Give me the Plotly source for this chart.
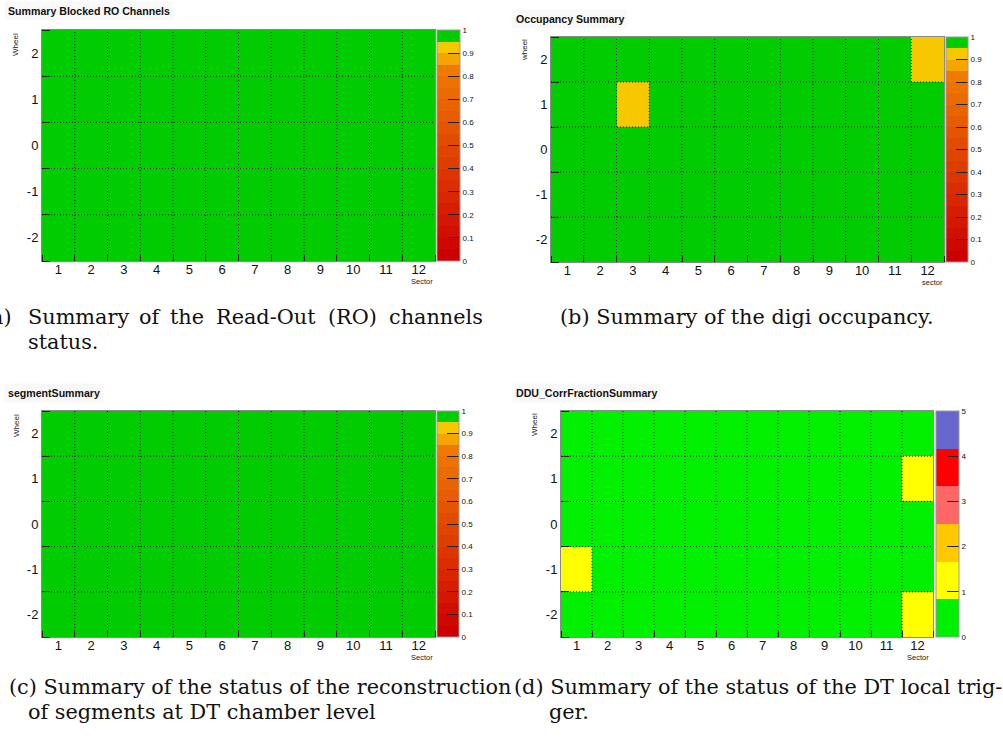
import plotly.graph_objects as go

W, H = 1003, 738

# ---- data -------------------------------------------------------------
sectors = [1, 2, 3, 4, 5, 6, 7, 8, 9, 10, 11, 12]
wheels = [-2, -1, 0, 1, 2]
wheel_labels = ["-2", "-1", "0", "1", "2"]
sector_labels = ["1", "2", "3", "4", "5", "6", "7", "8", "9", "10", "11", "12"]

# rows ordered as wheels (-2 .. 2), columns as sectors (1 .. 12)
blocked_ro = [
    [1.0, 1.0, 1.0, 1.0, 1.0, 1.0, 1.0, 1.0, 1.0, 1.0, 1.0, 1.0],
    [1.0, 1.0, 1.0, 1.0, 1.0, 1.0, 1.0, 1.0, 1.0, 1.0, 1.0, 1.0],
    [1.0, 1.0, 1.0, 1.0, 1.0, 1.0, 1.0, 1.0, 1.0, 1.0, 1.0, 1.0],
    [1.0, 1.0, 1.0, 1.0, 1.0, 1.0, 1.0, 1.0, 1.0, 1.0, 1.0, 1.0],
    [1.0, 1.0, 1.0, 1.0, 1.0, 1.0, 1.0, 1.0, 1.0, 1.0, 1.0, 1.0],
]
occupancy = [
    [1.0, 1.0, 1.0, 1.0, 1.0, 1.0, 1.0, 1.0, 1.0, 1.0, 1.0, 1.0],
    [1.0, 1.0, 1.0, 1.0, 1.0, 1.0, 1.0, 1.0, 1.0, 1.0, 1.0, 1.0],
    [1.0, 1.0, 1.0, 1.0, 1.0, 1.0, 1.0, 1.0, 1.0, 1.0, 1.0, 1.0],
    [1.0, 1.0, 0.92, 1.0, 1.0, 1.0, 1.0, 1.0, 1.0, 1.0, 1.0, 1.0],
    [1.0, 1.0, 1.0, 1.0, 1.0, 1.0, 1.0, 1.0, 1.0, 1.0, 1.0, 0.92],
]
segments = [
    [1.0, 1.0, 1.0, 1.0, 1.0, 1.0, 1.0, 1.0, 1.0, 1.0, 1.0, 1.0],
    [1.0, 1.0, 1.0, 1.0, 1.0, 1.0, 1.0, 1.0, 1.0, 1.0, 1.0, 1.0],
    [1.0, 1.0, 1.0, 1.0, 1.0, 1.0, 1.0, 1.0, 1.0, 1.0, 1.0, 1.0],
    [1.0, 1.0, 1.0, 1.0, 1.0, 1.0, 1.0, 1.0, 1.0, 1.0, 1.0, 1.0],
    [1.0, 1.0, 1.0, 1.0, 1.0, 1.0, 1.0, 1.0, 1.0, 1.0, 1.0, 1.0],
]
ddu_corr_fraction = [
    [0, 0, 0, 0, 0, 0, 0, 0, 0, 0, 0, 1],
    [1, 0, 0, 0, 0, 0, 0, 0, 0, 0, 0, 0],
    [0, 0, 0, 0, 0, 0, 0, 0, 0, 0, 0, 0],
    [0, 0, 0, 0, 0, 0, 0, 0, 0, 0, 0, 1],
    [0, 0, 0, 0, 0, 0, 0, 0, 0, 0, 0, 0],
]

status_ticks = [0, 0.1, 0.2, 0.3, 0.4, 0.5, 0.6, 0.7, 0.8, 0.9, 1]
status_tick_text = ["0", "0.1", "0.2", "0.3", "0.4", "0.5", "0.6", "0.7", "0.8", "0.9", "1"]
ddu_ticks = [0, 1, 2, 3, 4, 5]


# ---- palettes ---------------------------------------------------------
def stepped_scale(colors):
    n = len(colors)
    scale = []
    for i, c in enumerate(colors):
        scale.append([i / n, c])
        scale.append([(i + 1) / n, c])
    return scale


def red_orange(k, n):
    # red (204,0,0) -> orange (240,122,0)
    t = k / (n - 1)
    r = int(round(204 + (240 - 204) * t))
    g = int(round(0 + 122 * t))
    return f"rgb({r},{g},0)"


status_colors = [red_orange(k, 17) for k in range(17)] + ["#f5a500", "#f7c800", "#00cc00"]
status_scale = stepped_scale(status_colors)
ddu_scale = stepped_scale(["#00f000", "#ffff00", "#ffc800", "#ff6666", "#ff0000", "#6666cc"])


def fx(px):
    return px / W


def fy(py):
    return 1 - py / H


# pixel boxes: (left, right, top, bottom), colour bar (left, right, top, bottom)
panels = [
    dict(z=blocked_ro, scale=status_scale, zmax=1, ticks=status_ticks, ticktext=status_tick_text,
         plot=(42, 435, 30, 261), bar=(437, 460, 30, 261),
         title="Summary Blocked RO Channels", title_xy=(4, 11),
         ylab="Wheel", ylab_xy=(16, 44), xlab="Sector", xlab_xy=(422, 281)),
    dict(z=occupancy, scale=status_scale, zmax=1, ticks=status_ticks, ticktext=status_tick_text,
         plot=(551, 944, 37, 262), bar=(946, 968, 37, 262),
         title="Occupancy Summary", title_xy=(512, 19),
         ylab="wheel", ylab_xy=(524, 50), xlab="sector", xlab_xy=(932, 282)),
    dict(z=segments, scale=status_scale, zmax=1, ticks=status_ticks, ticktext=status_tick_text,
         plot=(42, 435, 411, 637), bar=(437, 459, 411, 637),
         title="segmentSummary", title_xy=(4, 393),
         ylab="Wheel", ylab_xy=(16, 425), xlab="Sector", xlab_xy=(422, 657)),
    dict(z=ddu_corr_fraction, scale=ddu_scale, zmax=5, ticks=ddu_ticks,
         ticktext=[str(t) for t in ddu_ticks],
         plot=(561, 933, 411, 637), bar=(936, 959, 411, 637),
         title="DDU_CorrFractionSummary", title_xy=(512, 393),
         ylab="Wheel", ylab_xy=(534, 425), xlab="Sector", xlab_xy=(918, 657)),
]

fig = go.Figure()
annotations = []
shapes = []
tick_font = dict(family="Liberation Sans, Arial, sans-serif", size=13, color="#111")

for i, p in enumerate(panels):
    n = "" if i == 0 else str(i + 1)
    xa, ya = "x" + n, "y" + n
    l, r, t, b = p["plot"]
    bl, br, bt, bb = p["bar"]
    fig.add_trace(go.Heatmap(
        x=sectors, y=wheels, z=p["z"], xaxis=xa, yaxis=ya,
        colorscale=p["scale"], zmin=0, zmax=p["zmax"],
        colorbar=dict(
            x=fx(bl), xanchor="left", y=fy(bb), yanchor="bottom",
            len=bb - bt, lenmode="pixels", thickness=br - bl, thicknessmode="pixels",
            xpad=0, ypad=0, outlinecolor="#9a9a9a", outlinewidth=1,
            tickmode="array", tickvals=p["ticks"], ticktext=p["ticktext"],
            ticks="inside", ticklen=12, tickcolor="#222", tickwidth=1,
            tickfont=dict(family="Liberation Sans, Arial, sans-serif", size=8, color="#111"),
        ),
        hoverinfo="skip",
    ))
    axis_x = dict(
        domain=[fx(l), fx(r)], range=[0.5, 12.5], anchor=ya,
        tickmode="array", tickvals=sectors, ticktext=sector_labels, ticks="",
        ticklabelstandoff=-4,
        tickfont=tick_font, showgrid=False, zeroline=False,
        showline=True, linecolor="#8a8a8a", linewidth=1, mirror=True,
        layer="above traces",
        minor=dict(tickmode="linear", tick0=0.5, dtick=1, ticks="inside",
                   ticklen=6, tickcolor="#222", showgrid=False),
    )
    axis_y = dict(
        domain=[fy(b), fy(t)], range=[-2.5, 2.5], anchor=xa,
        tickmode="array", tickvals=wheels, ticktext=wheel_labels, ticks="",
        tickfont=tick_font, showgrid=False, zeroline=False,
        showline=True, linecolor="#8a8a8a", linewidth=1, mirror=True,
        layer="above traces",
        minor=dict(tickmode="linear", tick0=0.5, dtick=1, ticks="inside",
                   ticklen=8, tickcolor="#222", showgrid=False),
    )
    fig.update_layout({"xaxis" + n: axis_x, "yaxis" + n: axis_y})

    # dotted cell borders drawn over the cells
    for s in sectors[:-1]:
        shapes.append(dict(type="line", xref=xa, yref=ya, x0=s + 0.5, x1=s + 0.5,
                           y0=wheels[0] - 0.5, y1=wheels[-1] + 0.5, layer="above",
                           line=dict(color="#1a1a1a", width=1, dash="1px,2px")))
    for w in wheels[:-1]:
        shapes.append(dict(type="line", xref=xa, yref=ya, y0=w + 0.5, y1=w + 0.5,
                           x0=sectors[0] - 0.5, x1=sectors[-1] + 0.5, layer="above",
                           line=dict(color="#1a1a1a", width=1, dash="1px,2px")))

    tx, ty = p["title_xy"]
    annotations.append(dict(
        text="<b>" + p["title"] + "</b>", xref="paper", yref="paper",
        x=fx(tx), y=fy(ty), xanchor="left", yanchor="middle", showarrow=False,
        font=dict(family="Liberation Sans, Arial, sans-serif", size=10.6, color="#111"),
        bgcolor="#f9f9f9", borderpad=3,
    ))
    lx, ly = p["ylab_xy"]
    annotations.append(dict(
        text=p["ylab"], xref="paper", yref="paper", x=fx(lx), y=fy(ly),
        xanchor="center", yanchor="middle", textangle=-90, showarrow=False,
        font=dict(family="Liberation Sans, Arial, sans-serif", size=8, color="#222"),
    ))
    sx, sy = p["xlab_xy"]
    annotations.append(dict(
        text=p["xlab"], xref="paper", yref="paper", x=fx(sx), y=fy(sy),
        xanchor="center", yanchor="middle", showarrow=False,
        font=dict(family="Liberation Sans Narrow, Liberation Sans, Arial, sans-serif", size=7.5, color="#222"),
    ))

# ---- sub-figure captions ---------------------------------------------
cap_font = dict(family="DejaVu Serif, serif", size=20.8, color="#111")


def caption(text, x, y, anchor="left"):
    annotations.append(dict(text=text, xref="paper", yref="paper", x=fx(x), y=fy(y),
                            xanchor=anchor, yanchor="middle", showarrow=False, font=cap_font))


# (a) first line is justified across the column
for word, x in [("(a)", 14), ("Summary", 26), ("of", 137), ("the", 168),
                ("Read-Out", 214), ("(RO)", 326), ("channels", 387)]:
    caption(word, x, 317, "right" if word == "(a)" else "left")
caption("status.", 26, 342)
caption("(b) Summary of the digi occupancy.", 747, 317, "center")
caption("(c) Summary of the status of the reconstruction", 513, 687, "right")
caption("of segments at DT chamber level", 26, 712)
caption("(d) Summary of the status of the DT local trig-", 512, 687)
caption("ger.", 547, 712)

fig.update_layout(
    width=W, height=H, margin=dict(l=0, r=0, t=0, b=0),
    paper_bgcolor="white", plot_bgcolor="white",
    showlegend=False, annotations=annotations, shapes=shapes,
)

fig.write_html("out.html")
